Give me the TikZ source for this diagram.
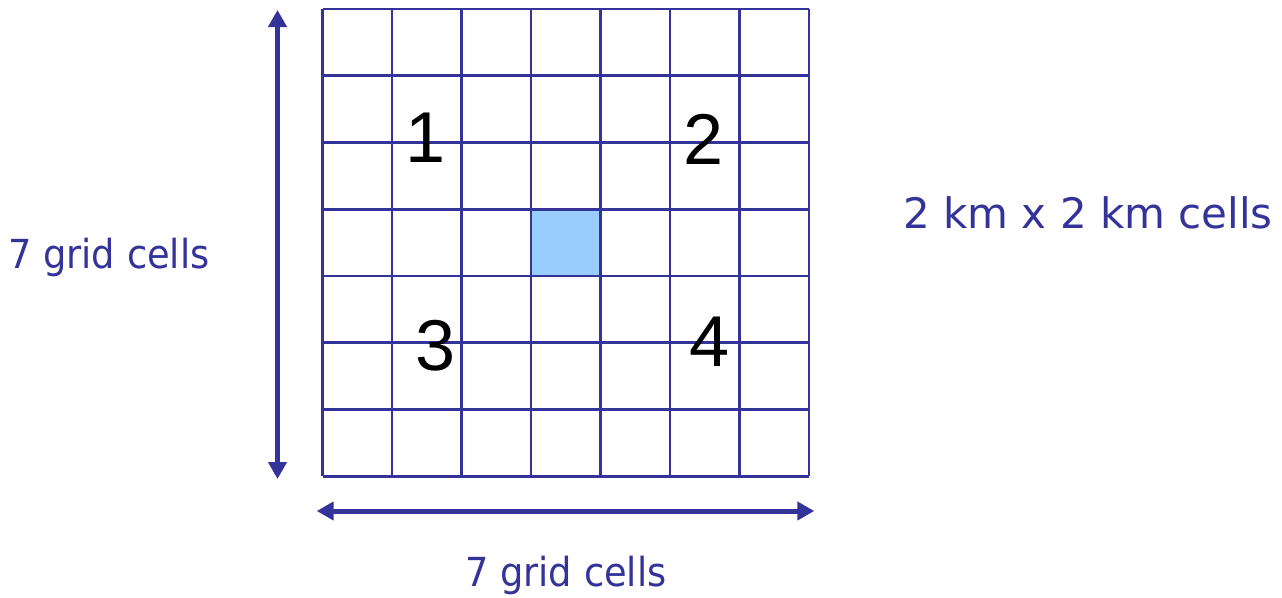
\documentclass[tikz,border=0pt]{standalone}
\usepackage{fontspec}
\usepackage{graphicx}
\setmainfont{DejaVu Sans}
\newfontfamily\digitfont{Liberation Sans}
\usetikzlibrary{arrows.meta}
\definecolor{gridblue}{HTML}{333399}
\definecolor{cellfill}{HTML}{99CCFF}
\tikzset{
  gridline/.style={draw=gridblue, line width=2.6pt},
  dimarrow/.style={draw=gridblue, line width=5pt, {Triangle[width=18pt,length=17pt]}-{Triangle[width=18pt,length=17pt]}},
  lab/.style={text=gridblue, inner sep=0pt, anchor=base west},
  num/.style={text=black, inner sep=0pt, anchor=center, font=\digitfont\fontsize{72}{72}\selectfont},
}
\begin{document}
\begin{tikzpicture}[x=1pt,y=-1pt]
\useasboundingbox (0,0) rectangle (1282,597);
% highlighted cell
\fill[cellfill] (531,209.25) rectangle (600.5,276);
% grid
\foreach \i in {0,...,7} {
  \draw[gridline] ({322.5+\i*69.5},9) -- ({322.5+\i*69.5},476.25);
  \draw[gridline] (322.5,{9+\i*66.75}) -- (809,{9+\i*66.75});
}
% arrow end points
\coordinate (vtop) at (277.5,10);
\coordinate (vbot) at (277.5,479);
\coordinate (hleft) at (316.7,511);
\coordinate (hright) at (814.3,511);
\draw[dimarrow] (vtop) -- (vbot);
\draw[dimarrow] (hleft) -- (hright);
% labels
\node[lab, font=\fontsize{40}{40}\selectfont] (leftlab) at (8,268) {\scalebox{0.92}[1]{7 grid cells}};
\node[lab, font=\fontsize{40}{40}\selectfont] (botlab) at (465,586) {\scalebox{0.92}[1]{7 grid cells}};
\node[lab, font=\fontsize{42}{42}\selectfont] (cellslab) at (903,228) {2 km x 2 km cells};
% numbers
\node[num] (n1) at (425.5,138) {1};
\node[num] (n2) at (704,139) {2};
\node[num] (n3) at (435.5,346) {3};
\node[num] (n4) at (709.5,341.5) {4};
\end{tikzpicture}
\end{document}
